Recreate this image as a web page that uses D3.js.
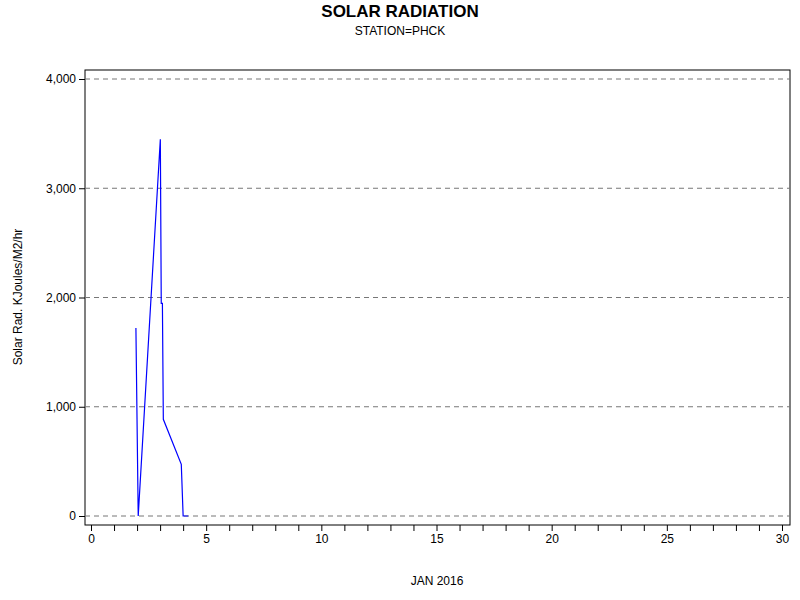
<!DOCTYPE html><html><head><script src="https://cdn.jsdelivr.net/npm/d3@7"></script>
<style>body{margin:0;background:#fff}</style></head><body><script>
const days=[1.95,2.05,3.01,3.05,3.10,3.14,3.92,4.0,4.22];
const values=[1721,0,3448,1947,1947,885,473,0,0];
const yTicks=[0,1000,2000,3000,4000];
const xTicks=[0,5,10,15,20,25,30];
const svg=d3.select("body").append("svg").attr("width",800).attr("height",600).style("font-family","Arial, Liberation Sans, sans-serif");
const x=d3.scaleLinear().domain([0,30]).range([91,782]);
const y=d3.scaleLinear().domain([0,4000]).range([516,79]);
svg.append("rect").attr("x",85).attr("y",70).attr("width",705).attr("height",455).attr("fill","none").attr("stroke","#000");
svg.selectAll(".g").data(yTicks).enter().append("line").attr("x1",85).attr("x2",790).attr("y1",d=>y(d)).attr("y2",d=>y(d)).attr("stroke","#777").attr("stroke-dasharray","5,4");
const ya=svg.append("g").attr("transform","translate(85,0)").call(d3.axisLeft(y).tickValues(yTicks).tickSize(6).tickSizeOuter(0));
ya.select(".domain").remove();ya.selectAll("text").attr("font-size",12).attr("font-family","Arial, Liberation Sans, sans-serif");
const xa=svg.append("g").attr("transform","translate(0,525)").call(d3.axisBottom(x).tickValues(d3.range(0,31)).tickSize(6).tickFormat(d=>xTicks.includes(d)?d:""));
xa.select(".domain").remove();xa.selectAll("text").attr("font-size",12).attr("font-family","Arial, Liberation Sans, sans-serif");
svg.append("path").datum(days.map((d,i)=>[d,values[i]])).attr("fill","none").attr("stroke","#0000ff").attr("stroke-width",1.2).attr("d",d3.line().x(d=>x(d[0])).y(d=>y(d[1])));
svg.append("text").attr("x",400).attr("y",17).attr("text-anchor","middle").attr("font-weight","bold").attr("font-size",17).text("SOLAR RADIATION");
svg.append("text").attr("x",400).attr("y",35).attr("text-anchor","middle").attr("font-size",12).text("STATION=PHCK");
svg.append("text").attr("x",437).attr("y",585).attr("text-anchor","middle").attr("font-size",12).text("JAN 2016");
svg.append("text").attr("transform","translate(22,297) rotate(-90)").attr("text-anchor","middle").attr("font-size",12).text("Solar Rad. KJoules/M2/hr");
</script></body></html>
